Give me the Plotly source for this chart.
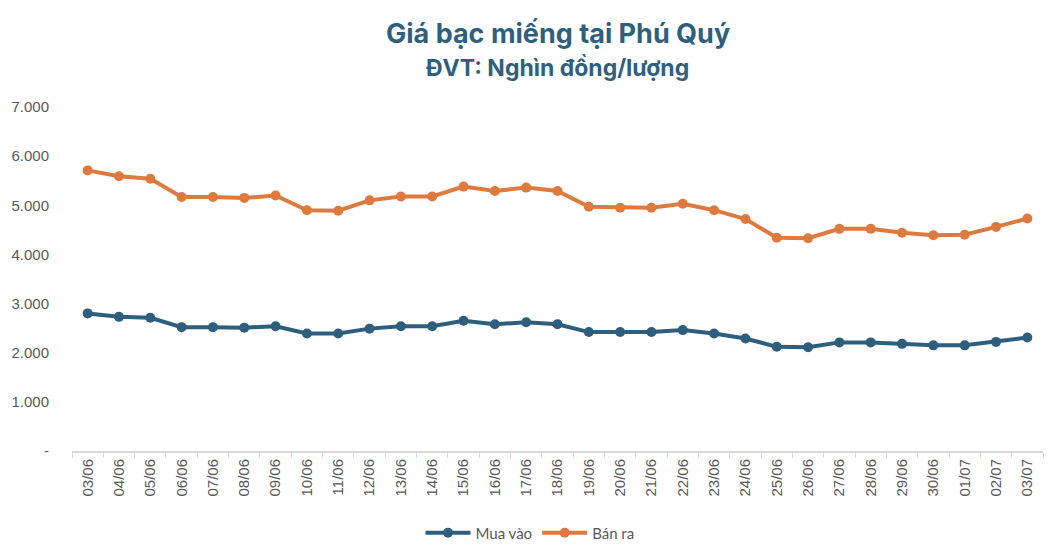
import plotly.graph_objects as go

# Ngày (trục x)
dates = [
    "03/06", "04/06", "05/06", "06/06", "07/06", "08/06", "09/06", "10/06",
    "11/06", "12/06", "13/06", "14/06", "15/06", "16/06", "17/06", "18/06",
    "19/06", "20/06", "21/06", "22/06", "23/06", "24/06", "25/06", "26/06",
    "27/06", "28/06", "29/06", "30/06", "01/07", "02/07", "03/07",
]

# Giá mua vào (nghìn đồng/lượng)
mua_vao = [
    2800, 2730, 2710, 2520, 2520, 2510, 2540, 2390,
    2390, 2490, 2540, 2540, 2650, 2580, 2620, 2580,
    2420, 2420, 2420, 2460, 2390, 2290, 2120, 2110,
    2210, 2210, 2180, 2150, 2150, 2220, 2310,
]

# Giá bán ra (nghìn đồng/lượng)
ban_ra = [
    5710, 5590, 5540, 5170, 5170, 5150, 5200, 4900,
    4890, 5100, 5180, 5180, 5380, 5290, 5360, 5290,
    4970, 4950, 4950, 5030, 4900, 4720, 4340, 4330,
    4520, 4520, 4440, 4390, 4400, 4560, 4730,
]

# Nhãn trục y
y_ticks = [0, 1000, 2000, 3000, 4000, 5000, 6000, 7000]
y_labels = ["-", "1.000", "2.000", "3.000", "4.000", "5.000", "6.000", "7.000"]

blue = "#2E5E7D"
orange = "#DF7A3F"
title_color = "#2F5F7E"
text_gray = "#595959"

fig = go.Figure()

fig.add_trace(
    go.Scatter(
        x=dates,
        y=mua_vao,
        name="Mua vào",
        mode="lines+markers",
        line=dict(color=blue, width=4),
        marker=dict(color=blue, size=10),
    )
)

fig.add_trace(
    go.Scatter(
        x=dates,
        y=ban_ra,
        name="Bán ra",
        mode="lines+markers",
        line=dict(color=orange, width=4),
        marker=dict(color=orange, size=10),
    )
)

# Tiêu đề hai dòng
fig.add_annotation(
    text="<b>Giá bạc miếng tại Phú Quý</b>",
    xref="paper", yref="paper", x=0.5, y=1.215,
    xanchor="center", yanchor="middle", showarrow=False,
    font=dict(family="Inter, Lato, sans-serif", size=27, color=title_color),
)
fig.add_annotation(
    text="<b>ĐVT: Nghìn đồng/lượng</b>",
    xref="paper", yref="paper", x=0.5, y=1.113,
    xanchor="center", yanchor="middle", showarrow=False,
    font=dict(family="Inter, Lato, sans-serif", size=23, color=title_color),
)

# The page body has an 8px margin, so the figure is sized to fit inside it
fig.update_layout(
    width=1044,
    height=538,
    paper_bgcolor="white",
    plot_bgcolor="white",
    margin=dict(l=64, r=9, t=99, b=95),
    showlegend=True,
    legend=dict(
        orientation="h",
        xref="container",
        x=0.5, xanchor="center",
        yref="container",
        y=0.024, yanchor="middle",
        font=dict(family="Lato, sans-serif", size=15, color=text_gray),
        itemwidth=45,
    ),
    xaxis=dict(
        type="category",
        range=[-0.5, len(dates) - 0.5],
        automargin=False,
        tickangle=-90,
        tickson="boundaries",
        ticks="outside",
        ticklen=5,
        tickcolor="#D9D9D9",
        showline=True,
        linecolor="#D9D9D9",
        linewidth=2,
        showgrid=False,
        tickfont=dict(family="Liberation Sans, Arial, sans-serif", size=15, color=text_gray),
    ),
    yaxis=dict(
        range=[0, 7000],
        automargin=False,
        tickvals=y_ticks,
        ticktext=y_labels,
        showgrid=False,
        zeroline=False,
        showline=False,
        ticks="",
        ticklabelstandoff=22,
        tickfont=dict(family="Liberation Sans, Arial, sans-serif", size=15, color=text_gray),
    ),
)

fig.write_html("out.html")
